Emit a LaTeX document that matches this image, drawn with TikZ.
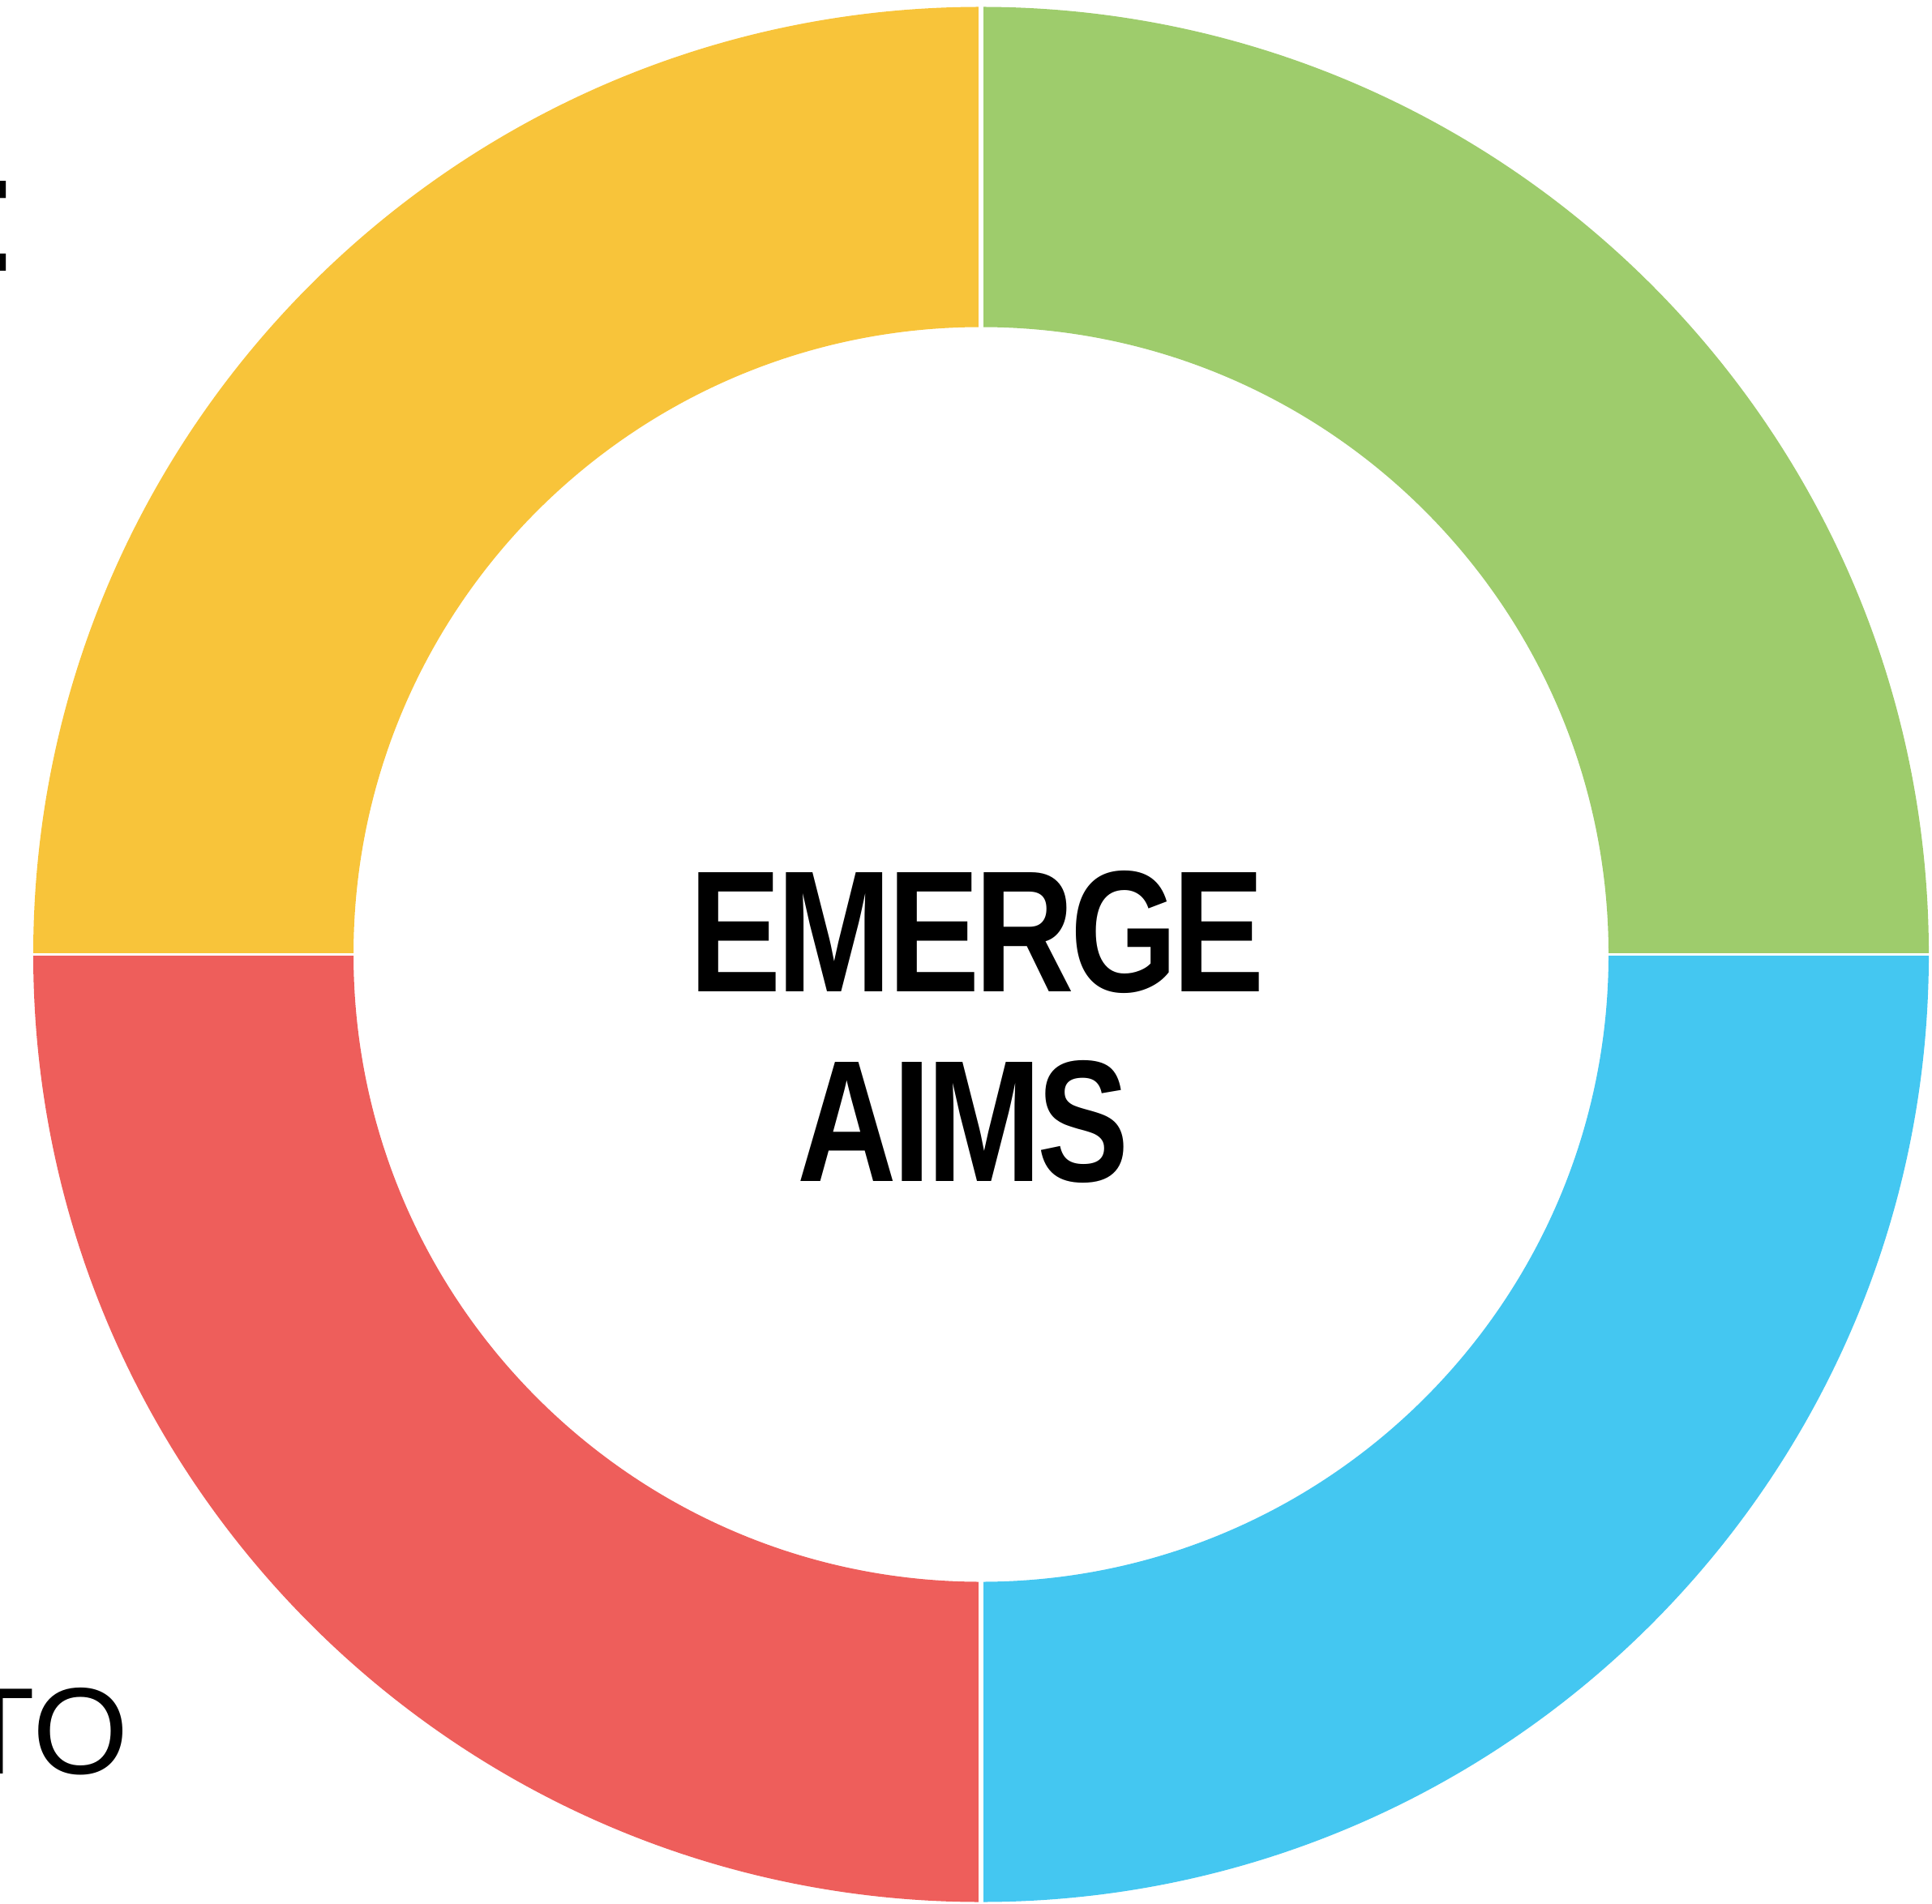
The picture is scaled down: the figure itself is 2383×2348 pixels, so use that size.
\documentclass[tikz,border=0pt]{standalone}
\usepackage{fontspec}
\setmainfont{Liberation Sans}
\newfontfamily\condfont{Liberation Sans}[FakeStretch=0.795, LetterSpace=-2.5]
\definecolor{aimyellow}{RGB}{248,196,58}
\definecolor{aimgreen}{RGB}{158,204,108}
\definecolor{aimred}{RGB}{238,94,91}
\definecolor{aimblue}{RGB}{68,199,241}

\begin{document}
\begin{tikzpicture}[x = 0.25pt, y = 0.25pt,
	gap/.style = {white, line width = 1.5pt},
	aimtext/.style = {inner sep = 0, outer sep = 0, anchor = base,
		font = \condfont\bfseries\fontsize{53.4pt}{60pt}\selectfont},
	edgetext/.style = {inner sep = 0, outer sep = 0, anchor = base west}]
	\useasboundingbox (0, 0) rectangle (2383, 2348);
	% ring
	\begin{scope}[shift = {(1210, 1170.5)}]
		\foreach \a/\b/\col in {0/90/aimgreen, 90/180/aimyellow, 180/270/aimred, 270/360/aimblue}
			\fill[\col] (\a:1169) arc[start angle = \a, end angle = \b, radius = 1169]
				-- (\b:774) arc[start angle = \b, end angle = \a, radius = 774] -- cycle;
		\draw[gap] (0, 1180) -- (0, -1180);
		\draw[gap, line width = 0.75pt] (-1180, 0) -- (1180, 0);
	\end{scope}
	% title
	\node[aimtext] (emerge) at (1205.5, 1125) {EMERGE};
	\node[aimtext] (aims) at (1188, 891) {AIMS};
	% cut-off texts at the left edge
	\node[edgetext, font = \fontsize{38pt}{45pt}\selectfont] (to) at (-50, 160) {TO};
	\node[edgetext, font = \fontsize{52.5pt}{60pt}\selectfont] (colon) at (-31, 2013) {:};
\end{tikzpicture}
\end{document}
